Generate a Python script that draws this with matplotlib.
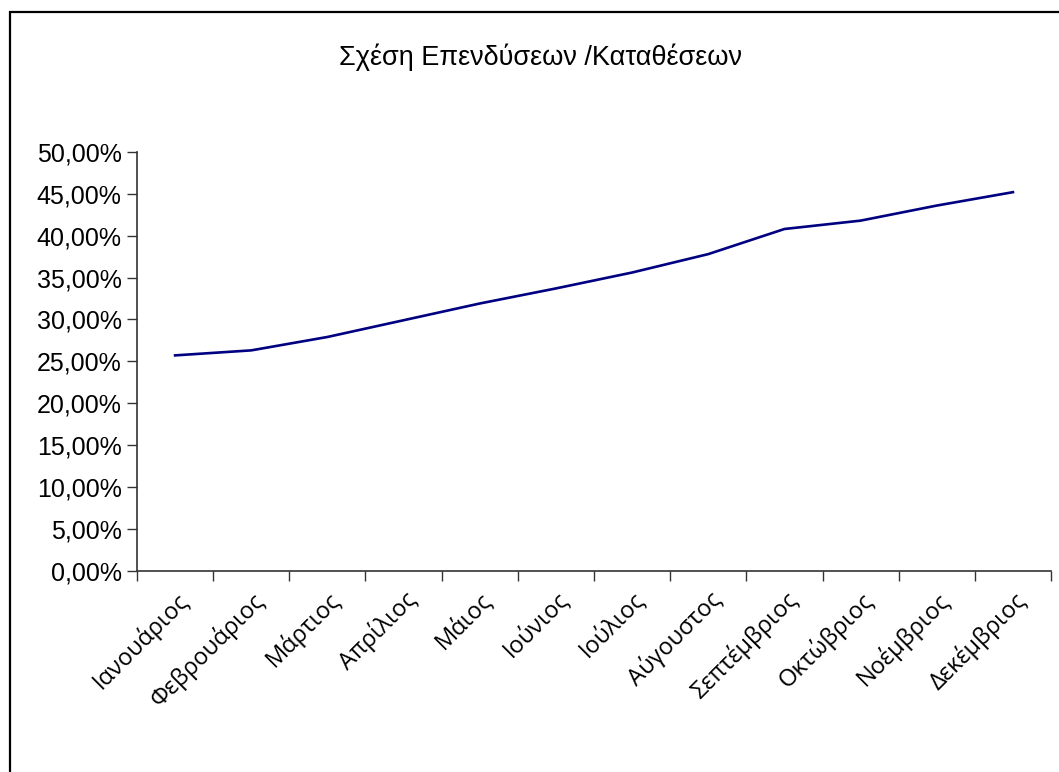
import matplotlib
matplotlib.use("Agg")
import matplotlib.pyplot as plt
from matplotlib.ticker import FuncFormatter, MultipleLocator, FixedLocator
from matplotlib.patches import Rectangle

months = ["Ιανουάριος", "Φεβρουάριος", "Μάρτιος", "Απρίλιος", "Μάιος", "Ιούνιος",
          "Ιούλιος", "Αύγουστος", "Σεπτέμβριος", "Οκτώβριος", "Νοέμβριος", "Δεκέμβριος"]
ratio = [25.7, 26.3, 27.9, 29.9, 31.9, 33.7, 35.6, 37.8, 40.8, 41.8, 43.6, 45.2]

fig = plt.figure(figsize=(10.59, 7.72), dpi=100)
ax = fig.add_axes([137/1059, 1 - 570.5/772, (1051 - 137)/1059, (570.5 - 152)/772])

x = list(range(len(months)))
ax.plot(x, ratio, color="#000080", linewidth=1.9)

ax.set_xlim(-0.5, len(months) - 0.5)
ax.set_ylim(0, 50)
ax.yaxis.set_major_locator(MultipleLocator(5))
ax.yaxis.set_major_formatter(FuncFormatter(lambda v, p: f"{v:.2f}".replace(".", ",") + "%"))

ax.set_xticks(x)
ax.set_xticklabels(months, rotation=45, ha="right", rotation_mode="anchor",
                   fontfamily="Open Sans", fontsize=17)
ax.tick_params(axis="x", which="major", length=0, pad=12)
ax.xaxis.set_minor_locator(FixedLocator([i - 0.5 for i in range(len(months) + 1)]))
ax.tick_params(axis="x", which="minor", length=7, width=1, color="#333333")
ax.tick_params(axis="y", length=7, width=1, color="#333333", pad=4,
               labelsize=18)
for lbl in ax.get_yticklabels():
    lbl.set_fontfamily("Liberation Sans")

for side in ("top", "right"):
    ax.spines[side].set_visible(False)
for side in ("left", "bottom"):
    ax.spines[side].set_color("#333333")
    ax.spines[side].set_linewidth(1.2)

fig.text(0.51, 1 - 57/772, "Σχέση Επενδύσεων /Καταθέσεων", ha="center", va="center",
         fontfamily="Liberation Sans", fontsize=19.5)

# outer frame around the chart area
fig.patches.append(Rectangle((10/1059, -0.05), 1.1, 1.05 - 12/772, transform=fig.transFigure,
                             fill=False, edgecolor="black", linewidth=1.6))

fig.savefig("out.png", dpi=100)
